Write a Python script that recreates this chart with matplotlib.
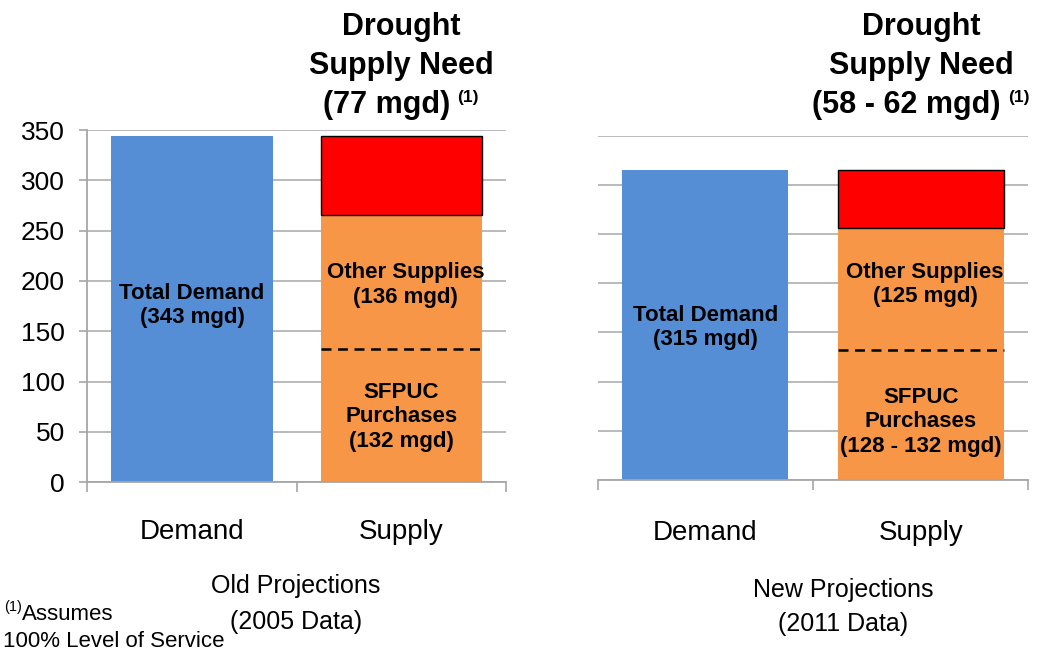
import matplotlib
matplotlib.use('Agg')
import matplotlib.pyplot as plt

plt.rcParams['font.family'] = ['Liberation Sans', 'DejaVu Sans']

# ---------------- data ----------------
categories = ['Demand', 'Supply']
yticks = [0, 50, 100, 150, 200, 250, 300, 350]

old_demand = 344
old_sfpuc = 132
old_other = 134
old_need = 78

new_demand = 315
new_sfpuc = 132
new_other = 124
new_need = 59

old_demand_label = 'Total Demand\n(343 mgd)'
old_other_label = 'Other Supplies\n(136 mgd)'
old_sfpuc_label = 'SFPUC\nPurchases\n(132 mgd)'
new_demand_label = 'Total Demand\n(315 mgd)'
new_other_label = 'Other Supplies\n(125 mgd)'
new_sfpuc_label = 'SFPUC\nPurchases\n(128 - 132 mgd)'

old_title = ['Drought', 'Supply Need', '(77 mgd)']
new_title = ['Drought', 'Supply Need', '(58 - 62 mgd)']
old_caption = ['Old Projections', '(2005 Data)']
new_caption = ['New Projections', '(2011 Data)']

# ---------------- figure ----------------
W, H = 1044, 651
fig = plt.figure(figsize=(W / 100, H / 100), dpi=100)
renderer = fig.canvas.get_renderer()


def rect(x0, x1, ytop, ybot):
    return [x0 / W, 1 - ybot / H, (x1 - x0) / W, (ybot - ytop) / H]


BLUE = '#558ED5'
ORANGE = '#F79646'
RED = '#FF0000'
GRID = '#b4b4b4'


def panel(ax, demand, sfpuc, other, need, lab_d, lab_o, lab_s, ys, show_y, xpad):
    bw = 0.77
    ax.bar(0, demand, width=bw, color=BLUE, zorder=2)
    b_s = ax.bar(1, sfpuc, width=bw, color=ORANGE, zorder=2)[0]
    ax.bar(1, other, bottom=sfpuc, width=bw, color=ORANGE, zorder=2)
    ax.bar(1, need, bottom=sfpuc + other, width=bw, color=RED,
           edgecolor='black', linewidth=1.0, zorder=3)
    ax.hlines(sfpuc, b_s.get_x(), b_s.get_x() + b_s.get_width(),
              colors='black', linestyles=(0, (4, 2.6)), linewidth=1.8, zorder=4)

    ax.set_xlim(-0.5, 1.5)
    ax.set_ylim(0, 350)
    ax.set_yticks(yticks)
    ax.yaxis.grid(True, color=GRID, linewidth=1.3)
    ax.set_axisbelow(True)
    for s in ['top', 'right']:
        ax.spines[s].set_visible(False)
    ax.spines['bottom'].set_color('#a6a6a6')
    ax.spines['bottom'].set_linewidth(1.3)
    if show_y:
        ax.spines['left'].set_color('#a6a6a6')
        ax.spines['left'].set_linewidth(1.3)
        ax.tick_params(axis='y', length=6, width=1.2, color='#a6a6a6',
                       labelsize=19, pad=10)
    else:
        ax.spines['left'].set_visible(False)
        ax.tick_params(axis='y', length=0, labelleft=False)

    ax.set_xticks([-0.5, 0.5, 1.5])
    ax.set_xticklabels([])
    ax.tick_params(axis='x', which='major', length=7, width=1.2, color='#a6a6a6')
    ax.set_xticks([0, 1], minor=True)
    ax.set_xticklabels(categories, minor=True, fontsize=20)
    ax.tick_params(axis='x', which='minor', length=0, pad=xpad)

    kw = dict(ha='center', va='center', fontsize=16, fontweight='bold',
              linespacing=1.2, zorder=5)
    ax.text(0, ys[0], lab_d, **kw)
    ax.text(1.02, ys[1], lab_o, **kw)
    ax.text(1, ys[2], lab_s, **kw)


axL = fig.add_axes(rect(87.3, 506, 130, 482.3))
axR = fig.add_axes(rect(597.7, 1028.3, 135.7, 480))
panel(axL, old_demand, old_sfpuc, old_other, old_need,
      old_demand_label, old_other_label, old_sfpuc_label, [176, 196, 65], True, 26.5)
panel(axR, new_demand, new_sfpuc, new_other, new_need,
      new_demand_label, new_other_label, new_sfpuc_label, [155, 199, 59], False, 28.5)


def fy(py):
    return 1 - py / H


def title_block(cx, lines, baselines, size=22, sup_size=12.5):
    for line, by in zip(lines[:-1], baselines[:-1]):
        fig.text(cx / W, fy(by), line, ha='center', va='baseline',
                 fontsize=size, fontweight='bold')
    t = fig.text(0, fy(baselines[-1]), lines[-1], ha='left', va='baseline',
                 fontsize=size, fontweight='bold')
    s = fig.text(0, fy(baselines[-1] - 11), '(1)', ha='left', va='baseline',
                 fontsize=sup_size, fontweight='bold')
    w1 = t.get_window_extent(renderer).width
    w2 = s.get_window_extent(renderer).width
    gap = 7
    x0 = cx - (w1 + gap + w2) / 2
    t.set_x(x0 / W)
    s.set_x((x0 + w1 + gap) / W)


title_block(401, old_title, [35, 74, 113])
title_block(921, new_title, [35, 74, 113])

for line, by in zip(old_caption, [593, 629]):
    fig.text(296 / W, fy(by), line, ha='center', va='baseline', fontsize=18)
for line, by in zip(new_caption, [597, 631]):
    fig.text(843 / W, fy(by), line, ha='center', va='baseline', fontsize=18)

# footnote
fig.text(4 / W, fy(611), '(1)', ha='left', va='baseline', fontsize=10.5)
fig.text(22 / W, fy(620), 'Assumes', ha='left', va='baseline', fontsize=16)
fig.text(3 / W, fy(647), '100% Level of Service', ha='left', va='baseline',
         fontsize=16)

fig.savefig('out.png', dpi=100)
